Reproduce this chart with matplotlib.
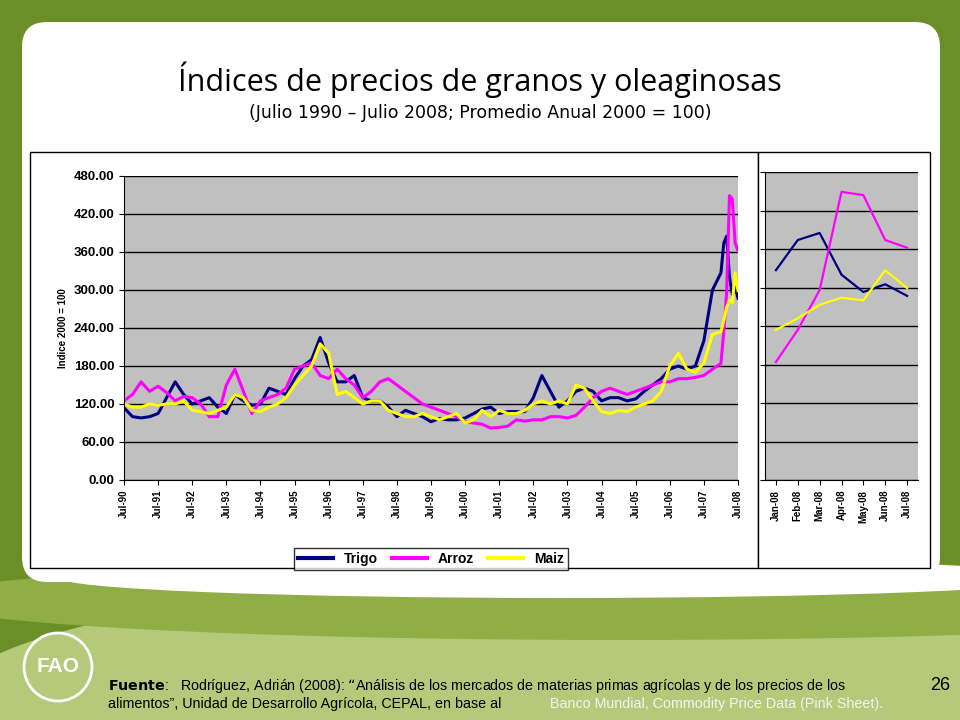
import numpy as np
import matplotlib
matplotlib.use("Agg")
import matplotlib.pyplot as plt
from matplotlib.patches import FancyBboxPatch, Rectangle, Circle, Ellipse

# quarterly points (plus monthly 2008), date as "YYYY-MM"
dates = ["1990-07", "1990-10"] + [f"{y}-{m:02d}" for y in range(1991, 2008) for m in (1, 4, 7, 10)] + \
        ["2008-01", "2008-02", "2008-03", "2008-04", "2008-05", "2008-06", "2008-07"]

trigo = [114, 100,
         98, 100, 105, 130,
         155, 135, 120, 125,
         130, 115, 105, 135,
         125, 118, 120, 145,
         140, 135, 160, 180,
         190, 225, 185, 155,
         155, 165, 130, 125,
         125, 115, 100, 110,
         105, 100, 92, 97,
         95, 95, 98, 105,
         112, 115, 105, 108,
         108, 108, 130, 165,
         140, 115, 125, 140,
         145, 140, 125, 130,
         130, 125, 128, 140,
         150, 160, 175, 180,
         175, 180, 220, 300,
         327, 374, 385, 320, 293, 305, 287]
arroz = [125, 135,
         155, 140, 148, 138,
         125, 132, 130, 120,
         100, 100, 150, 175,
         140, 105, 125, 130,
         135, 145, 175, 180,
         185, 165, 160, 175,
         160, 150, 130, 140,
         155, 160, 150, 140,
         130, 120, 115, 110,
         105, 100, 92, 90,
         88, 82, 83, 85,
         95, 93, 95, 95,
         100, 100, 98, 102,
         115, 130, 140, 145,
         140, 135, 140, 145,
         150, 155, 155, 160,
         160, 162, 165, 175,
         184, 234, 296, 449, 444, 374, 362]
maiz = [120, 115,
        115, 120, 118, 120,
        120, 125, 110, 108,
        105, 110, 115, 135,
        130, 110, 108, 115,
        120, 130, 150, 165,
        180, 215, 200, 135,
        140, 130, 120, 125,
        125, 110, 105, 100,
        100, 105, 100, 95,
        100, 105, 90, 95,
        110, 100, 110, 105,
        105, 110, 120, 125,
        120, 125, 120, 150,
        145, 125, 108, 105,
        110, 108, 115, 120,
        125, 140, 180, 200,
        175, 170, 185, 230,
        234, 252, 273, 284, 280, 327, 299]

zoom_labels = ["Jan-08", "Feb-08", "Mar-08", "Apr-08", "May-08", "Jun-08", "Jul-08"]
year_labels = [f"Jul-{y % 100:02d}" for y in range(1990, 2009)]


def to_year(d):
    y, m = d.split("-")
    return int(y) + (int(m) - 1) / 12.0


x = np.array([to_year(d) for d in dates])
navy, magenta, yellow = "#000080", "#ff00ff", "#ffff00"
font = "Liberation Sans"

fig = plt.figure(figsize=(9.6, 7.2), dpi=100)
fig.patch.set_facecolor("#6b8f27")
W, H = 960, 720

def fx(px):
    return px / W

def fy(py):
    return 1 - py / H

# slide background
bg = fig.add_axes([0, 0, 1, 1])
bg.set_xlim(0, W)
bg.set_ylim(H, 0)
bg.axis("off")
bg.add_patch(Ellipse((700, 700), 1500, 260, fc="#b5c97a", ec="none"))
bg.add_patch(Ellipse((620, 600), 1400, 80, fc="#8fae45", ec="none"))
bg.add_patch(FancyBboxPatch((22, 22), 918, 560, boxstyle="round,pad=0,rounding_size=25",
                            fc="white", ec="none"))
bg.add_patch(Ellipse((560, 578), 1000, 40, fc="white", ec="none"))
bg.add_patch(Rectangle((30, 152), 728, 416, fc="white", ec="black", lw=1))
bg.add_patch(Rectangle((758, 152), 172, 416, fc="white", ec="black", lw=1))
bg.add_patch(Circle((58, 667), 34, fc="none", ec="white", lw=2))
bg.text(58, 667, "FAO", color="white", fontsize=15, fontweight="bold", ha="center", va="center", family=font)

fig.text(0.5, fy(80), "Índices de precios de granos y oleaginosas", ha="center", va="center",
         fontsize=22, family="Open Sans")
fig.text(0.5, fy(113), "(Julio 1990 – Julio 2008; Promedio Anual 2000 = 100)", ha="center", va="center",
         fontsize=12.5, family="DejaVu Sans")
fig.text(fx(108), fy(686), r"$\mathbf{Fuente}$:   Rodríguez, Adrián (2008): “Análisis de los mercados de materias primas agrícolas y de los precios de los",
         fontsize=10.3, family=font, va="center")
fig.text(fx(108), fy(704), "alimentos”, Unidad de Desarrollo Agrícola, CEPAL, en base al", fontsize=10.3, family=font, va="center")
fig.text(fx(550), fy(704), "Banco Mundial, Commodity Price Data (Pink Sheet).", fontsize=10.3, family=font,
         va="center", color="#f4f4f4")
fig.text(fx(950), fy(686), "26", fontsize=13, family=font, ha="right", va="center")

# main chart
ax = fig.add_axes([fx(124), fy(480), fx(738 - 124), (480 - 176) / H])
ax.set_facecolor("#c0c0c0")
ax.plot(x, trigo, color=navy, lw=2.2, label="Trigo")
ax.plot(x, arroz, color=magenta, lw=2.2, label="Arroz")
ax.plot(x, maiz, color=yellow, lw=2.2, label="Maiz")
ax.set_xlim(1990.5, 2008.5)
ax.set_ylim(0, 480)
ax.set_yticks(np.arange(0, 481, 60))
ax.set_yticklabels([f"{v:.2f}" for v in np.arange(0, 481, 60)], fontsize=9.5, fontweight="bold", family=font)
ax.yaxis.grid(True, color="black", lw=1)
ax.set_axisbelow(True)
ax.set_xticks(np.arange(1990.5, 2008.6, 1))
ax.set_xticklabels(year_labels, rotation=90, fontsize=7, fontweight="bold", family=font)
ax.set_ylabel("Indice 2000 = 100", fontsize=7, fontweight="bold", family=font)
for s in ("top", "right"):
    ax.spines[s].set_visible(False)
leg = ax.legend(loc="upper center", bbox_to_anchor=(0.5, -0.2), ncol=3, frameon=True, fancybox=False,
                edgecolor="black", prop={"family": font, "weight": "bold", "size": 10}, handlelength=2.5,
                columnspacing=1.0, borderpad=0.3)
for ln in leg.get_lines():
    ln.set_linewidth(3)

# zoom panel for 2008
ax2 = fig.add_axes([fx(765), fy(480), fx(918 - 765), (480 - 172) / H])
ax2.set_facecolor("#c0c0c0")
n = len(zoom_labels)
ax2.plot(range(n), trigo[-n:], color=navy, lw=1.6)
ax2.plot(range(n), arroz[-n:], color=magenta, lw=1.6)
ax2.plot(range(n), maiz[-n:], color=yellow, lw=1.6)
ax2.set_xlim(-0.5, n - 0.5)
ax2.set_ylim(0, 480)
ax2.set_yticks(np.arange(0, 481, 60))
ax2.set_yticklabels([])
ax2.yaxis.grid(True, color="black", lw=1)
ax2.set_axisbelow(True)
ax2.set_xticks(range(n))
ax2.set_xticklabels(zoom_labels, rotation=90, fontsize=7, fontweight="bold", family=font)
for s in ("top", "right"):
    ax2.spines[s].set_visible(False)

fig.savefig("out.png", dpi=100, facecolor=fig.get_facecolor())
